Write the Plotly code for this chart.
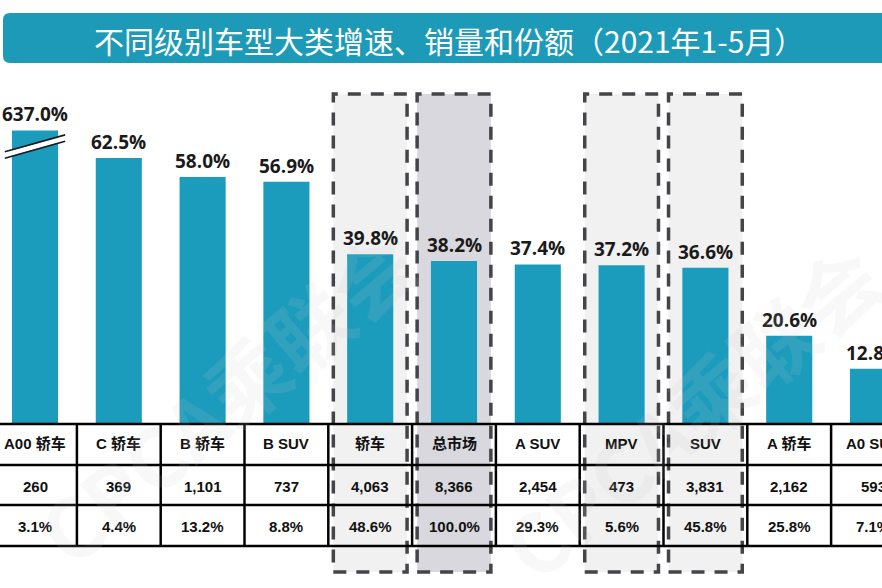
import plotly.graph_objects as go

# ---------------- data ----------------
categories = ["A00 轿车", "C 轿车", "B 轿车", "B SUV", "轿车", "总市场",
              "A SUV", "MPV", "SUV", "A 轿车", "A0 SUV"]
growth = [637.0, 62.5, 58.0, 56.9, 39.8, 38.2, 37.4, 37.2, 36.6, 20.6, 12.8]
sales = [260, 369, 1101, 737, 4063, 8366, 2454, 473, 3831, 2162, 593]
share = [3.1, 4.4, 13.2, 8.8, 48.6, 100.0, 29.3, 5.6, 45.8, 25.8, 7.1]
highlight_light = ["轿车", "MPV", "SUV"]
highlight_dark = ["总市场"]
title_text = "不同级别车型大类增速、销量和份额（2021年1-5月）"
axis_cap = 69.0  # broken-axis display cap for outlier bar

W, H = 882, 588
BAR = "#1b9cbd"
BANNER = "#1d9ab8"

def py(px):  # pixel y -> paper y
    return 1 - px / H

def pxx(px):
    return px / W

x_idx = list(range(len(categories)))
display = [min(v, axis_cap) for v in growth]
labels = [f"{v:.1f}%" for v in growth]

fig = go.Figure()
fig.add_trace(go.Bar(
    x=x_idx, y=display, width=0.55,
    marker=dict(color=BAR, line=dict(width=0)),
    hoverinfo="skip",
))

shapes = []
# highlight dashed boxes
for i, c in enumerate(categories):
    if c in highlight_light or c in highlight_dark:
        fill = "#d9d8de" if c in highlight_dark else "#f1f1f1"
        shapes.append(dict(type="rect", xref="x", yref="paper",
                           x0=i - 0.44, x1=i + 0.44, y0=py(572), y1=py(94),
                           fillcolor=fill, layer="below",
                           line=dict(color="#444449", width=3.5, dash="13px,10px")))

# table lines
for ypix in [424, 465, 505, 546]:
    shapes.append(dict(type="line", xref="paper", yref="paper",
                       x0=0, x1=1, y0=py(ypix), y1=py(ypix),
                       line=dict(color="#000000", width=2.5)))
for i in range(len(categories) - 1):
    shapes.append(dict(type="line", xref="x", yref="paper",
                       x0=i + 0.5, x1=i + 0.5, y0=py(424), y1=py(546),
                       line=dict(color="#000000", width=2.5)))

# axis-break symbol on the capped bar
for i, v in enumerate(growth):
    if v > axis_cap:
        yb = axis_cap - 3.8
        for off, col, wd in [(0.0, "#ffffff", 5), (0.75, "#1a1a1a", 1.6), (-0.75, "#1a1a1a", 1.6)]:
            shapes.append(dict(type="line", xref="x", yref="y",
                               x0=i - 0.36, x1=i + 0.36,
                               y0=yb - 2.0 + off, y1=yb + 2.0 + off,
                               line=dict(color=col, width=wd)))

# title banner (rounded left corners)
x0, x1 = pxx(3), pxx(W + 10)
yt, yb2 = py(13), py(63)
rx, ry = pxx(7), 7 / H
path = (f"M {x0+rx},{yt} L {x1},{yt} L {x1},{yb2} L {x0+rx},{yb2} "
        f"Q {x0},{yb2} {x0},{yb2+ry} L {x0},{yt-ry} Q {x0},{yt} {x0+rx},{yt} Z")
shapes.append(dict(type="path", xref="paper", yref="paper", path=path,
                   fillcolor=BANNER, line=dict(width=0), layer="above"))

annotations = []
annotations.append(dict(xref="paper", yref="paper", x=pxx(449), y=py(40),
                        text=title_text, showarrow=False,
                        font=dict(family="Noto Sans CJK SC, sans-serif", size=30, color="#ffffff"),
                        xanchor="center", yanchor="middle"))

# value labels above bars
for i in x_idx:
    annotations.append(dict(xref="x", yref="y", x=i, y=display[i], text=labels[i],
                            showarrow=False, xanchor="center", yanchor="bottom", yshift=1,
                            font=dict(family="Open Sans, Noto Sans, sans-serif", size=19,
                                      color="#1a1a1a", weight="bold")))

tfont = dict(family="Liberation Sans, Arial, Noto Sans CJK SC, sans-serif", size=15,
             color="#111111", weight="bold")
for i, c in enumerate(categories):
    annotations.append(dict(xref="x", yref="paper", x=i, y=py(443), text=c, showarrow=False,
                            font=tfont, xanchor="center", yanchor="middle"))
    annotations.append(dict(xref="x", yref="paper", x=i, y=py(486), text=f"{sales[i]:,}",
                            showarrow=False, font=tfont, xanchor="center", yanchor="middle"))
    annotations.append(dict(xref="x", yref="paper", x=i, y=py(526), text=f"{share[i]:.1f}%",
                            showarrow=False, font=tfont, xanchor="center", yanchor="middle"))

# watermarks
for cx, cy in [(225, 395), (690, 410)]:
    annotations.append(dict(xref="paper", yref="paper", x=pxx(cx), y=py(cy),
                            text="CPCA乘联会", showarrow=False, textangle=-40,
                            font=dict(family="Noto Sans CJK SC, sans-serif", size=82,
                                      color="rgba(200,200,200,0.13)", weight="bold"),
                            xanchor="center", yanchor="middle"))

px_per = 4.24
y_top = 423 / px_per
y_bot = -(H - 423) / px_per
x_left = -35 / 83.8
x_right = (W - 35) / 83.8

fig.update_layout(
    width=W, height=H,
    margin=dict(l=0, r=0, t=0, b=0),
    paper_bgcolor="#ffffff", plot_bgcolor="rgba(0,0,0,0)",
    showlegend=False,
    xaxis=dict(range=[x_left, x_right], visible=False, domain=[0, 1], fixedrange=True),
    yaxis=dict(range=[y_bot, y_top], visible=False, domain=[0, 1], fixedrange=True),
    shapes=shapes, annotations=annotations,
)

fig.write_html("out.html")
